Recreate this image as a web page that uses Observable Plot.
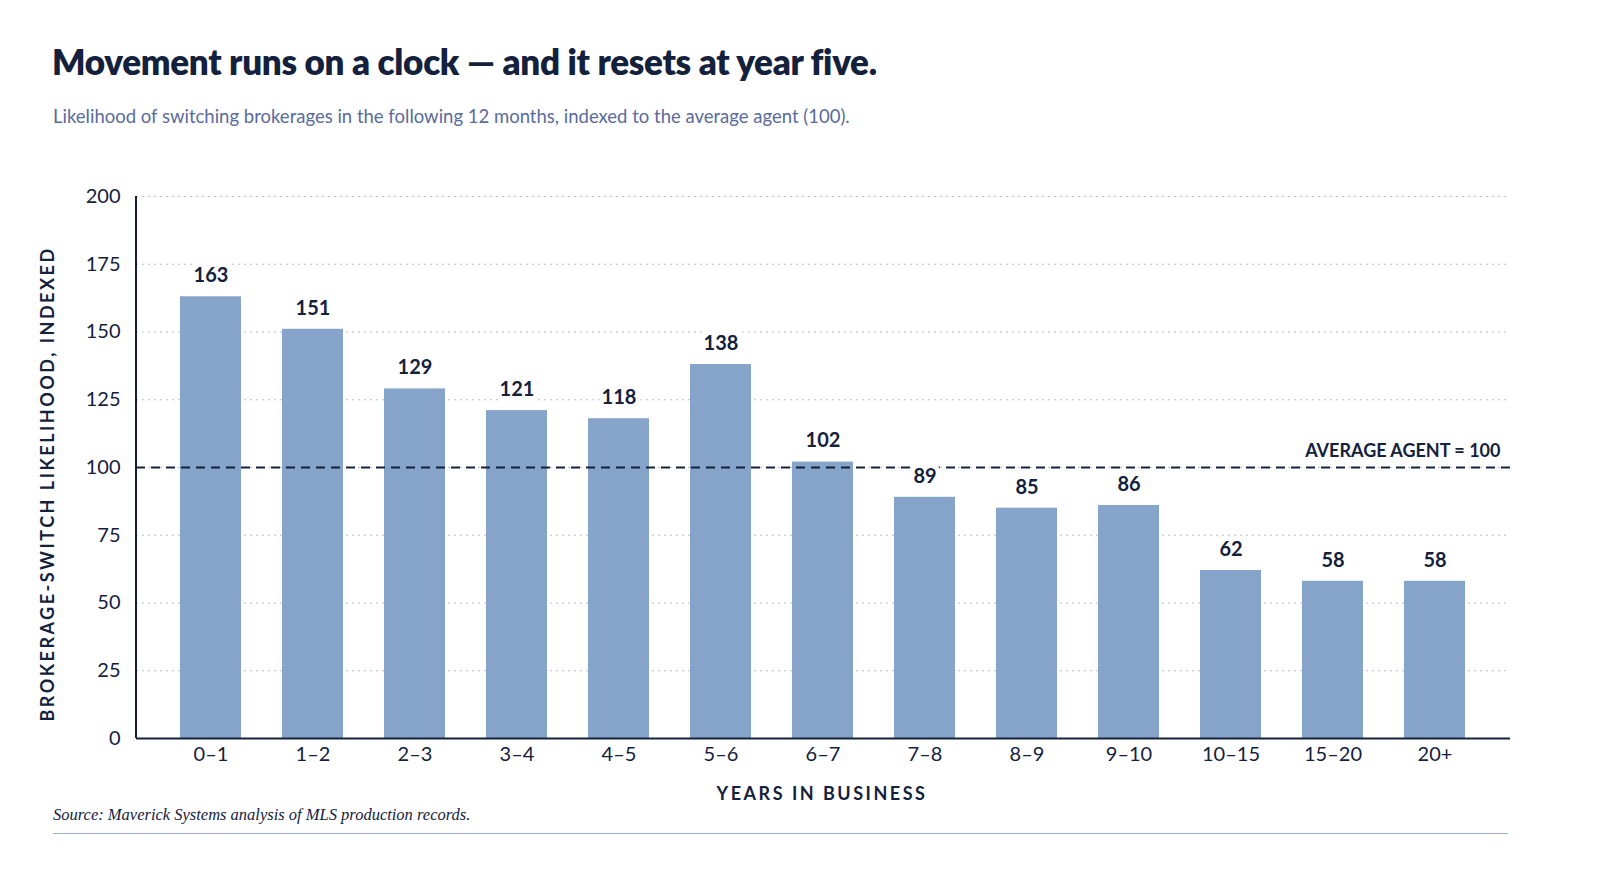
<!DOCTYPE html>
<html><head><meta charset="utf-8">
<script src="https://cdn.jsdelivr.net/npm/d3@7"></script>
<script src="https://cdn.jsdelivr.net/npm/@observablehq/plot@0.6"></script>
<style>
body{margin:0;background:#fff;font-family:Lato,"Open Sans",sans-serif;}
#wrap{position:relative;width:1600px;height:878px;}
h1{position:absolute;left:52px;top:40px;margin:0;font-size:35px;font-weight:800;color:#14213d;letter-spacing:-0.3px;}
.sub{position:absolute;left:53px;top:105px;font-size:18.5px;color:#5a6b9c;}
#chart{position:absolute;left:0;top:170px;}
.ylab{position:absolute;left:47px;top:484px;transform:translate(-50%,-50%) rotate(-90deg);white-space:nowrap;font-size:18px;font-weight:700;letter-spacing:2.5px;color:#14213d;}
.xlab{position:absolute;left:822px;top:782px;transform:translateX(-50%);white-space:nowrap;font-size:18px;font-weight:700;letter-spacing:2.5px;color:#14213d;}
.src{position:absolute;left:53px;top:805px;font-family:"Liberation Serif","DejaVu Serif",serif;font-style:italic;font-size:16.5px;color:#14213d;}
.rule{position:absolute;left:53px;top:833px;width:1455px;border-top:1.5px solid #9fb0cf;}
</style></head><body>
<div id="wrap">
<h1>Movement runs on a clock — and it resets at year five.</h1>
<div class="sub">Likelihood of switching brokerages in the following 12 months, indexed to the average agent (100).</div>
<div id="chart"></div>
<div class="ylab">BROKERAGE-SWITCH LIKELIHOOD, INDEXED</div>
<div class="xlab">YEARS IN BUSINESS</div>
<div class="src">Source: Maverick Systems analysis of MLS production records.</div>
<div class="rule"></div>
</div>
<script>
const categories = ["0–1","1–2","2–3","3–4","4–5","5–6","6–7","7–8","8–9","9–10","10–15","15–20","20+"];
const values = [163,151,129,121,118,138,102,89,85,86,62,58,58];
const yTicks = [0,25,50,75,100,125,150,175,200];
const average = 100;
const data = categories.map((c,i)=>({cat:c,v:values[i]}));
const navy = "#14213d";
const chart = Plot.plot({
  width:1600, height:640,
  marginLeft:136, marginRight:90, marginTop:26, marginBottom:72,
  style:{fontFamily:"Lato, 'Open Sans', sans-serif", fontSize:"20px", color:navy},
  x:{domain:categories, padding:0.4, tickSize:0},
  y:{domain:[0,200], ticks:yTicks, tickSize:0},
  marks:[
    Plot.gridY(yTicks.filter(d=>d>0),{stroke:"#b8bfcc",strokeDasharray:"2,4",strokeOpacity:1}),
    Plot.barY(data,{x:"cat",y:"v",fill:"#86a3c9"}),
    Plot.ruleY([average],{stroke:navy,strokeWidth:2.2,strokeDasharray:"9,6"}),
    Plot.text(data,{x:"cat",y:"v",text:d=>String(d.v),dy:-21,fontSize:20,fontWeight:700,fill:navy,stroke:"white",strokeWidth:10}),
    Plot.text([average],{y:d=>d,frameAnchor:"right",dx:-10,dy:-16,textAnchor:"end",text:()=>"AVERAGE AGENT = "+average,fontSize:18,fontWeight:700,fill:navy,stroke:"white",strokeWidth:6}),
    Plot.axisX({tickSize:0,tickPadding:8,fontSize:20,label:null}),
    Plot.axisY({ticks:yTicks,tickSize:0,tickPadding:16,fontSize:20,label:null}),
    Plot.ruleX([0],{x:()=>categories[0],stroke:"none"}),
    Plot.ruleY([0],{stroke:navy,strokeWidth:2})
  ]
});
d3.select(chart).append("line").attr("x1",136).attr("x2",136).attr("y1",26).attr("y2",568).attr("stroke",navy).attr("stroke-width",2);
document.getElementById("chart").appendChild(chart);
</script>
</body></html>
